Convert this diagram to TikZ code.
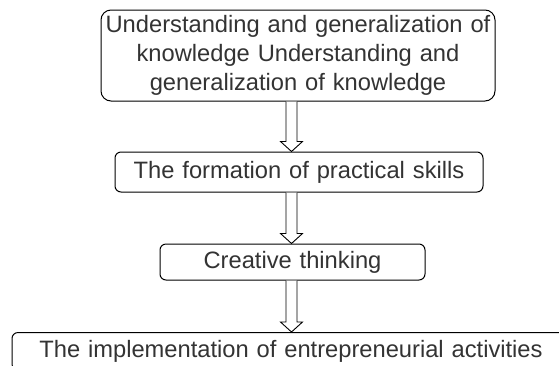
\documentclass[tikz,border=0pt]{standalone}
\usepackage{fontspec}
\setmainfont{Liberation Sans}
\usetikzlibrary{calc}
\tikzset{
  stagebox/.style={draw=black, line width=1pt, rounded corners=6pt, fill=white,
    text=black!80, font=\fontsize{23.7}{29}\selectfont, align=center,
    inner sep=0pt, anchor=center},
  hollowarrow/.style={draw=black, line width=0.9pt, fill=white, line join=miter},
}
\newcommand{\blockarrow}[2]{%
  \draw[hollowarrow] ($(#1.south -| ax)+(-5.5,0)$) -- ($(#2.north -| ax)+(-5.5,-10)$)
    -- ($(#2.north -| ax)+(-11,-10)$) -- (#2.north -| ax)
    -- ($(#2.north -| ax)+(11,-10)$) -- ($(#2.north -| ax)+(5.5,-10)$)
    -- ($(#1.south -| ax)+(5.5,0)$);}
\begin{document}
\begin{tikzpicture}[x=1pt,y=-1pt]
\useasboundingbox (0,0) rectangle (559,365);
\clip (0,0) rectangle (559,365);
\coordinate (ax) at (291.5,0);
\node[stagebox, rounded corners=10pt, minimum width=394pt, minimum height=91pt, text width=390pt] (b1) at (298,55.5)
  {Understanding and generalization of\\ knowledge Understanding and\\ generalization of knowledge};
\node[stagebox, minimum width=368pt, minimum height=40pt, text width=364pt] (b2) at (299,172)
  {The formation of practical skills};
\node[stagebox, minimum width=265pt, minimum height=36pt, text width=261pt] (b3) at (292.5,262)
  {Creative thinking};
\node[stagebox, minimum width=558pt, text width=554pt, inner ysep=7.8pt, anchor=north] (b4) at (291,332)
  {The implementation of entrepreneurial activities};
\blockarrow{b1}{b2}
\blockarrow{b2}{b3}
\blockarrow{b3}{b4}
\end{tikzpicture}
\end{document}
